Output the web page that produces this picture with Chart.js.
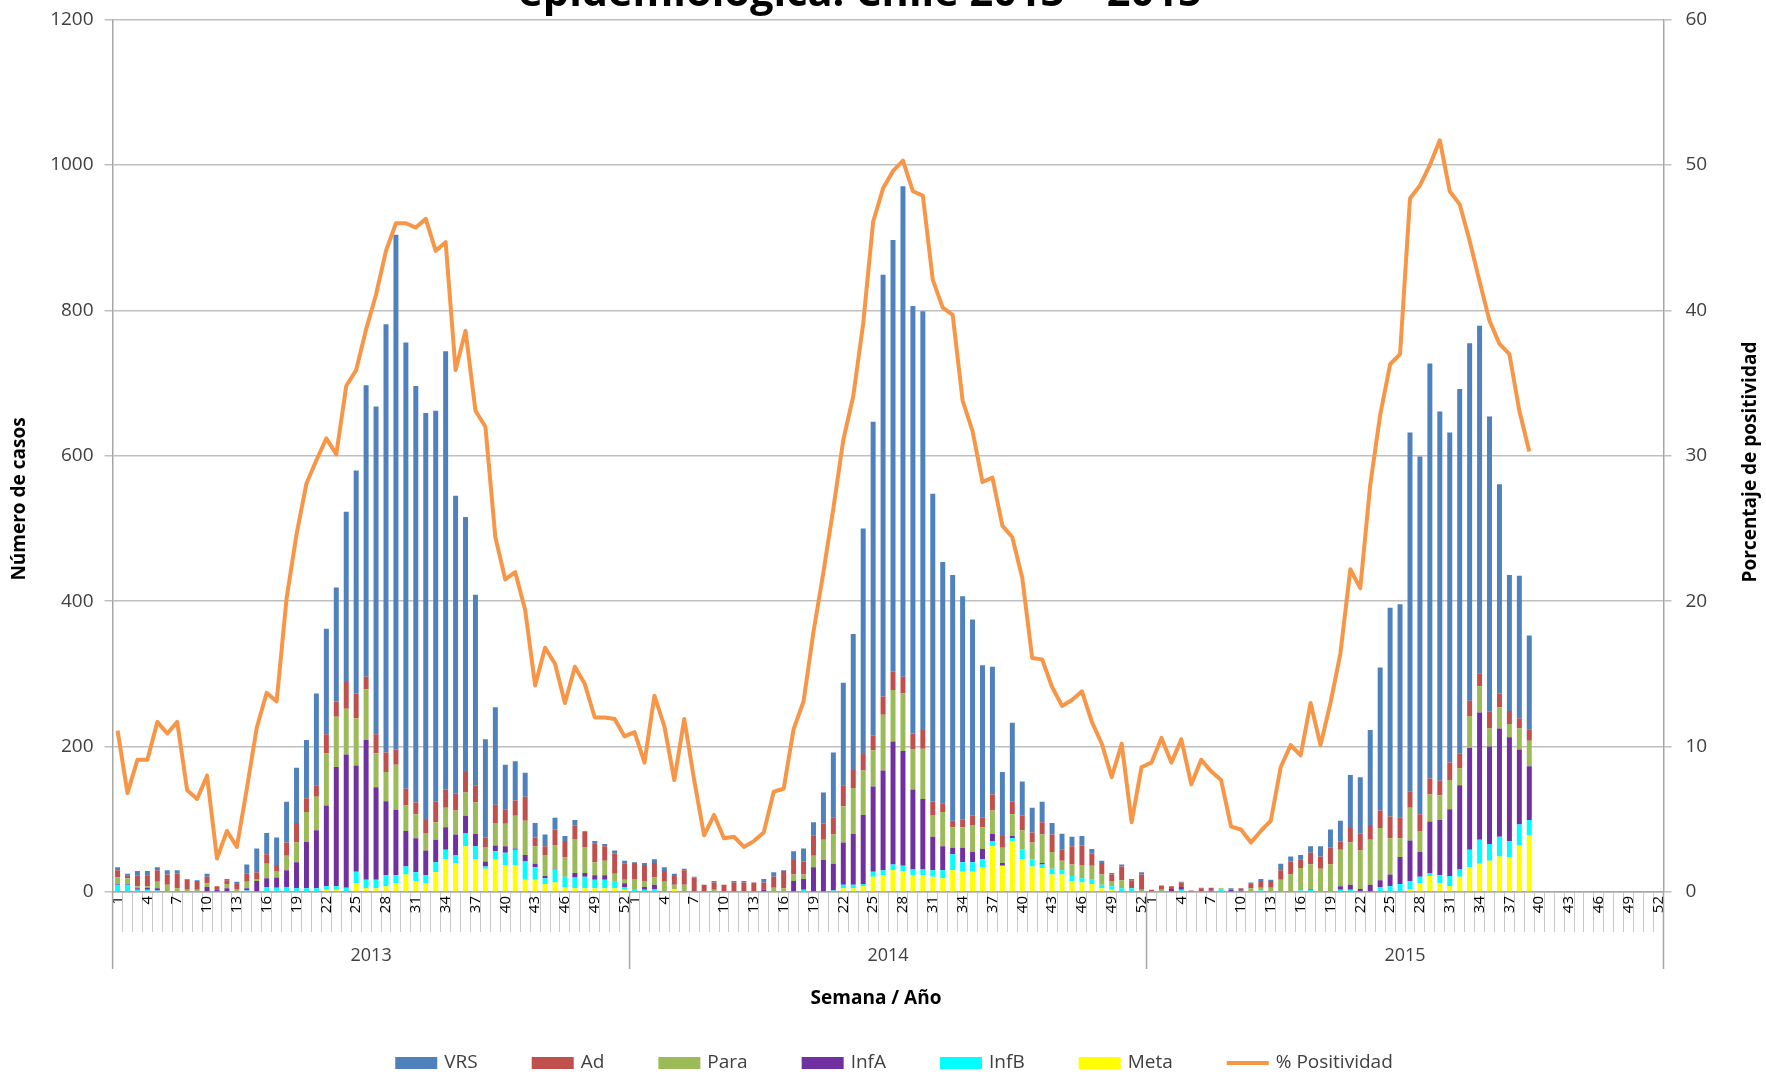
<!DOCTYPE html>
<html>
<head>
<meta charset="utf-8">
<script src="https://cdn.jsdelivr.net/npm/chart.js@4.4.1/dist/chart.umd.min.js"></script>
<style>
  html, body { margin: 0; padding: 0; background: #fff; }
  #wrap { width: 1766px; height: 1076px; }
</style>
</head>
<body>
<div id="wrap"><canvas id="chart" width="1766" height="1076"></canvas></div>
<script>
//Years and weeks
const years = ["2013", "2014", "2015"];
const weeks = [
    1, 2, 3, 4, 5, 6, 7, 8, 9, 10, 11, 12, 13, 14, 15, 16, 17, 18, 19, 20, 21, 22, 23, 24, 25, 26,
    27, 28, 29, 30, 31, 32, 33, 34, 35, 36, 37, 38, 39, 40, 41, 42, 43, 44, 45, 46, 47, 48, 49, 50, 51, 52
];
const weekLabels = years.flatMap(() => weeks.map(String));

//Cases per week (2013 | 2014 | 2015 up to week 39)
const vrs = [
    4, 2, 6, 6, 4, 6, 5, 1, 1, 4, 0, 2, 3, 13, 33, 29, 38, 56, 76, 80, 126, 145, 157, 234, 307, 401,
    451, 589, 708, 614, 573, 560, 538, 603, 410, 351, 263, 135, 134, 62, 54, 33, 20, 16, 16, 7, 8, 1, 3, 3, 4, 4,
    1, 3, 5, 5, 3, 2, 1, 0, 2, 0, 2, 2, 0, 5, 6, 1, 12, 18, 18, 43, 89, 141, 187, 310, 432, 580,
    594, 675, 588, 576, 424, 332, 338, 307, 270, 209, 176, 88, 109, 47, 34, 28, 16, 22, 13, 13, 6, 3, 2, 3, 2, 3,
    0, 0, 0, 1, 0, 1, 0, 0, 2, 0, 1, 3, 2, 9, 7, 6, 9, 14, 25, 29, 73, 78, 131, 197, 287, 293,
    494, 492, 571, 508, 454, 501, 492, 478, 406, 288, 187, 196, 129,
    null, null, null, null, null, null, null, null, null, null, null, null, null
];
const ad = [
    10, 4, 15, 15, 16, 14, 20, 14, 12, 9, 5, 5, 7, 11, 9, 13, 8, 18, 27, 19, 16, 26, 21, 37, 34, 17,
    26, 27, 21, 23, 16, 18, 28, 25, 23, 28, 23, 13, 25, 19, 21, 33, 12, 12, 22, 22, 18, 21, 26, 20, 28, 22,
    22, 22, 20, 15, 12, 20, 20, 10, 10, 10, 13, 13, 13, 10, 15, 24, 20, 18, 28, 22, 24, 29, 25, 23, 20, 25,
    25, 23, 22, 26, 18, 12, 9, 11, 13, 14, 22, 16, 17, 20, 14, 17, 24, 15, 25, 27, 17, 16, 9, 19, 11, 21,
    3, 6, 4, 6, 2, 5, 4, 0, 0, 3, 7, 9, 9, 13, 18, 12, 16, 17, 23, 11, 20, 23, 20, 24, 30, 29,
    22, 23, 22, 20, 24, 21, 21, 18, 23, 19, 18, 14, 16,
    null, null, null, null, null, null, null, null, null, null, null, null, null
];
const para = [
    9, 8, 3, 2, 9, 10, 5, 3, 3, 5, 0, 6, 3, 9, 3, 20, 9, 20, 27, 41, 46, 72, 69, 63, 65, 70,
    47, 40, 62, 35, 33, 24, 24, 27, 33, 32, 43, 20, 31, 31, 45, 47, 24, 29, 32, 27, 47, 36, 18, 20, 11, 5,
    14, 8, 10, 14, 6, 10, 0, 0, 3, 0, 0, 0, 0, 0, 6, 5, 9, 6, 16, 28, 40, 50, 63, 61, 50, 77,
    71, 79, 55, 69, 30, 47, 28, 28, 37, 30, 32, 21, 30, 27, 23, 39, 23, 13, 16, 18, 19, 14, 7, 11, 0, 3,
    0, 3, 0, 0, 0, 0, 0, 2, 0, 0, 5, 4, 6, 17, 24, 31, 34, 32, 38, 50, 58, 53, 62, 72, 50, 26,
    45, 29, 37, 34, 40, 23, 44, 36, 25, 29, 18, 29, 35,
    null, null, null, null, null, null, null, null, null, null, null, null, null
];
const infA = [
    1, 1, 2, 3, 3, 0, 0, 0, 0, 7, 3, 5, 0, 3, 15, 12, 14, 23, 36, 64, 80, 111, 164, 183, 146, 192,
    127, 102, 90, 49, 47, 34, 31, 31, 28, 24, 17, 7, 8, 9, 2, 9, 5, 3, 1, 0, 6, 5, 6, 6, 0, 5,
    0, 4, 6, 0, 0, 0, 0, 0, 0, 0, 0, 0, 0, 3, 0, 0, 15, 15, 34, 44, 37, 58, 70, 95, 117, 137,
    169, 158, 110, 97, 46, 33, 9, 20, 14, 14, 10, 4, 3, 0, 0, 2, 0, 0, 0, 0, 0, 0, 0, 0, 0, 0,
    0, 0, 4, 4, 0, 0, 2, 0, 3, 2, 0, 0, 0, 0, 0, 0, 1, 0, 0, 5, 7, 4, 9, 9, 16, 37,
    56, 34, 71, 76, 92, 116, 140, 175, 134, 149, 143, 103, 74,
    null, null, null, null, null, null, null, null, null, null, null, null, null
];
const infB = [
    10, 10, 3, 3, 2, 0, 0, 0, 0, 0, 0, 0, 1, 2, 0, 7, 6, 7, 5, 4, 5, 5, 5, 6, 16, 12,
    12, 15, 11, 11, 12, 11, 14, 13, 11, 18, 18, 3, 11, 17, 21, 25, 17, 8, 18, 14, 15, 16, 12, 12, 9, 4,
    4, 3, 4, 0, 0, 0, 0, 0, 0, 0, 0, 0, 0, 0, 0, 0, 0, 3, 0, 0, 1, 5, 5, 3, 7, 7,
    8, 7, 8, 8, 9, 11, 22, 13, 13, 11, 7, 0, 4, 13, 10, 5, 8, 6, 7, 6, 6, 5, 5, 5, 5, 0,
    0, 0, 0, 3, 0, 0, 0, 3, 0, 0, 0, 2, 0, 0, 0, 2, 3, 0, 0, 3, 3, 0, 1, 7, 8, 11,
    11, 9, 4, 11, 14, 10, 24, 33, 23, 27, 22, 29, 21,
    null, null, null, null, null, null, null, null, null, null, null, null, null
];
const meta = [
    0, 0, 0, 0, 0, 0, 0, 0, 0, 0, 0, 0, 0, 0, 0, 0, 0, 0, 0, 1, 0, 3, 3, 0, 12, 5,
    5, 8, 12, 24, 15, 12, 27, 45, 40, 63, 45, 32, 45, 37, 37, 17, 17, 11, 13, 7, 5, 5, 5, 5, 5, 3,
    0, 0, 0, 0, 4, 0, 0, 0, 0, 0, 0, 0, 0, 0, 0, 0, 0, 0, 0, 0, 1, 5, 5, 8, 21, 23,
    30, 29, 23, 23, 21, 19, 30, 28, 28, 34, 63, 36, 70, 45, 35, 33, 24, 24, 15, 13, 11, 5, 3, 0, 0, 0,
    0, 0, 0, 0, 0, 0, 0, 0, 0, 0, 0, 0, 0, 0, 0, 0, 0, 0, 0, 0, 0, 0, 0, 0, 0, 0,
    4, 12, 22, 12, 8, 21, 34, 39, 43, 49, 48, 64, 78,
    null, null, null, null, null, null, null, null, null, null, null, null, null
];

//Percent positive (right axis)
const positividad = [
    11.1, 6.8, 9.1, 9.1, 11.7, 10.9, 11.7, 7.0, 6.4, 8.0, 2.3, 4.2, 3.1, 7.1, 11.3, 13.7, 13.1, 20.2, 24.6, 28.1,
    29.7, 31.2, 30.1, 34.8, 35.9, 38.7, 41.1, 44.1, 46.0, 46.0, 45.7, 46.3, 44.1, 44.7, 35.9, 38.6, 33.1, 32.0,
    24.4, 21.5, 22.0, 19.4, 14.2, 16.8, 15.7, 13.0, 15.5, 14.3, 12.0, 12.0, 11.9, 10.7,
    11.0, 8.9, 13.5, 11.4, 7.7, 11.9, 7.7, 3.9, 5.3, 3.7, 3.8, 3.1, 3.5, 4.1, 6.9, 7.1, 11.2, 13.1, 17.9, 22.0,
    26.4, 31.1, 34.1, 39.1, 46.1, 48.4, 49.6, 50.3, 48.2, 47.9, 42.1, 40.2, 39.7, 33.8, 31.7, 28.2, 28.5, 25.2,
    24.4, 21.6, 16.1, 16.0, 14.1, 12.8, 13.2, 13.8, 11.7, 10.2, 7.9, 10.2, 4.8, 8.6,
    8.9, 10.6, 8.9, 10.5, 7.4, 9.1, 8.3, 7.7, 4.5, 4.3, 3.4, 4.2, 4.9, 8.6, 10.1, 9.4, 13.0, 10.1, 13.0, 16.4,
    22.2, 20.9, 28.0, 32.8, 36.3, 37.0, 47.7, 48.6, 50.0, 51.7, 48.2, 47.3, 44.8, 42.0, 39.3, 37.7, 37.0, 33.1, 30.3,
    null, null, null, null, null, null, null, null, null, null, null, null, null
];

//Colors
const colors = {
    VRS: "#4F81BD",
    Ad: "#C0504D",
    Para: "#9BBB59",
    InfA: "#7030A0",
    InfB: "#00FFFF",
    Meta: "#FFFF00",
    line: "#F79646"
};

const textColor = "#404040";
const axisGray = "#A6A6A6";
const gridGray = "#BFBFBF";

//Extra drawing: title, axis titles, year row, legend
const decor = {

    id: "decor",

    afterDraw(chart) {

        const { ctx, chartArea } = chart;
        const x = chart.scales.x;

        ctx.save();

        //Title (cut off at the top)
        ctx.fillStyle = "#000";
        ctx.textAlign = "center";
        ctx.textBaseline = "alphabetic";
        ctx.font = "bold 34px 'Open Sans'";
        const titleText = "epidemiológica. Chile 2013 – 2015";
        const w = ctx.measureText(titleText).width;
        const size = 34 * 684 / w;
        ctx.font = `bold ${size.toFixed(1)}px 'Open Sans'`;
        ctx.fillText(titleText, 860, 6);

        //Axis titles
        ctx.fillStyle = "#000";
        ctx.font = "bold 19px 'Open Sans'";
        ctx.textBaseline = "middle";

        ctx.save();
        ctx.translate(20, 499);
        ctx.rotate(-Math.PI / 2);
        ctx.fillText("Número de casos", 0, 0);
        ctx.restore();

        ctx.save();
        ctx.translate(1751, 462);
        ctx.rotate(-Math.PI / 2);
        ctx.fillText("Porcentaje de positividad", 0, 0);
        ctx.restore();

        ctx.fillText("Semana / Año", 876, 999);

        //Year separators and labels
        const half = (x.getPixelForValue(1) - x.getPixelForValue(0)) / 2;

        ctx.strokeStyle = axisGray;
        ctx.lineWidth = 1.5;

        for (let k = 0; k <= years.length; k++) {

            const px = k < years.length
                ? x.getPixelForValue(k * weeks.length) - half
                : x.getPixelForValue(years.length * weeks.length - 1) + half;

            ctx.beginPath();
            ctx.moveTo(px, chartArea.bottom);
            ctx.lineTo(px, 969);
            ctx.stroke();

        }

        ctx.fillStyle = textColor;
        ctx.font = "18px 'Open Sans'";

        years.forEach((yr, k) => {

            const cx = (x.getPixelForValue(k * weeks.length) +
                x.getPixelForValue(k * weeks.length + weeks.length - 1)) / 2;

            ctx.fillText(yr, cx, 956);

        });

        //Legend
        const items = [
            { label: "VRS", color: colors.VRS },
            { label: "Ad", color: colors.Ad },
            { label: "Para", color: colors.Para },
            { label: "InfA", color: colors.InfA },
            { label: "InfB", color: colors.InfB },
            { label: "Meta", color: colors.Meta },
            { label: "% Positividad", color: colors.line, line: true }
        ];

        ctx.font = "19px 'Open Sans'";
        ctx.textAlign = "left";

        const swatch = 42;
        const gapText = 7;
        const gapItem = 54;
        const legendY = 1063;

        const total = items.reduce((sum, it) =>
            sum + swatch + gapText + ctx.measureText(it.label).width, 0) + gapItem * (items.length - 1);

        let lx = 894 - total / 2;

        items.forEach(it => {

            if (it.line) {

                ctx.strokeStyle = it.color;
                ctx.lineWidth = 4;
                ctx.beginPath();
                ctx.moveTo(lx, legendY);
                ctx.lineTo(lx + swatch, legendY);
                ctx.stroke();

            } else {

                ctx.fillStyle = it.color;
                ctx.fillRect(lx, legendY - 6, swatch, 12);

            }

            lx += swatch + gapText;
            ctx.fillStyle = textColor;
            ctx.fillText(it.label, lx, legendY);
            lx += ctx.measureText(it.label).width + gapItem;

        });

        ctx.restore();

    }

};

//Chart
new Chart(document.getElementById("chart"), {

    type: "bar",

    data: {

        labels: weekLabels,

        datasets: [
            {
                type: "line",
                label: "% Positividad",
                data: positividad,
                yAxisID: "y1",
                borderColor: colors.line,
                backgroundColor: colors.line,
                borderWidth: 4,
                pointRadius: 0,
                tension: 0,
                spanGaps: false,
                borderJoinStyle: "round",
                order: 0
            },
            { label: "Meta", data: meta, backgroundColor: colors.Meta, yAxisID: "y", order: 1 },
            { label: "InfB", data: infB, backgroundColor: colors.InfB, yAxisID: "y", order: 1 },
            { label: "InfA", data: infA, backgroundColor: colors.InfA, yAxisID: "y", order: 1 },
            { label: "Para", data: para, backgroundColor: colors.Para, yAxisID: "y", order: 1 },
            { label: "Ad", data: ad, backgroundColor: colors.Ad, yAxisID: "y", order: 1 },
            { label: "VRS", data: vrs, backgroundColor: colors.VRS, yAxisID: "y", order: 1 }
        ]

    },

    options: {

        responsive: false,
        animation: false,
        devicePixelRatio: 1,

        layout: {
            padding: { top: 17, left: 0, right: 0, bottom: 65 }
        },

        datasets: {
            bar: { barPercentage: 0.5, categoryPercentage: 1.0 }
        },

        plugins: {
            legend: { display: false },
            tooltip: { enabled: false },
            title: { display: false }
        },

        scales: {

            x: {
                stacked: true,
                offset: true,
                grid: {
                    drawOnChartArea: false,
                    drawTicks: true,
                    tickLength: 40,
                    offset: true,
                    color: "#C8C8C8",
                    lineWidth: 1
                },
                border: { color: axisGray, width: 1.5 },
                ticks: {
                    autoSkip: false,
                    maxRotation: 90,
                    minRotation: 90,
                    padding: -36,
                    color: "#000",
                    font: { family: "'Open Sans'", size: 15 },
                    callback: function (value, index) {
                        return (index % weeks.length) % 3 === 0 ? this.getLabelForValue(value) : "";
                    }
                },
                afterFit: scale => { scale.height = 119; }
            },

            y: {
                stacked: true,
                min: 0,
                max: 1200,
                ticks: {
                    stepSize: 200,
                    padding: 11,
                    color: textColor,
                    font: { family: "'Open Sans'", size: 19, lineHeight: 0.6 },
                    callback: value => String(value)
                },
                grid: { color: gridGray, lineWidth: 1.5, tickLength: 8 },
                border: { color: axisGray, width: 1.5 },
                afterFit: scale => { scale.width = 112.6; }
            },

            y1: {
                position: "right",
                min: 0,
                max: 60,
                ticks: {
                    stepSize: 10,
                    padding: 14,
                    color: textColor,
                    font: { family: "'Open Sans'", size: 19, lineHeight: 0.6 },
                    callback: value => String(value)
                },
                grid: { drawOnChartArea: false, color: gridGray, lineWidth: 1.5, tickLength: 8 },
                border: { color: axisGray, width: 1.5 },
                afterFit: scale => { scale.width = 102.5; }
            }

        }

    },

    plugins: [decor]

});
</script>
</body>
</html>
